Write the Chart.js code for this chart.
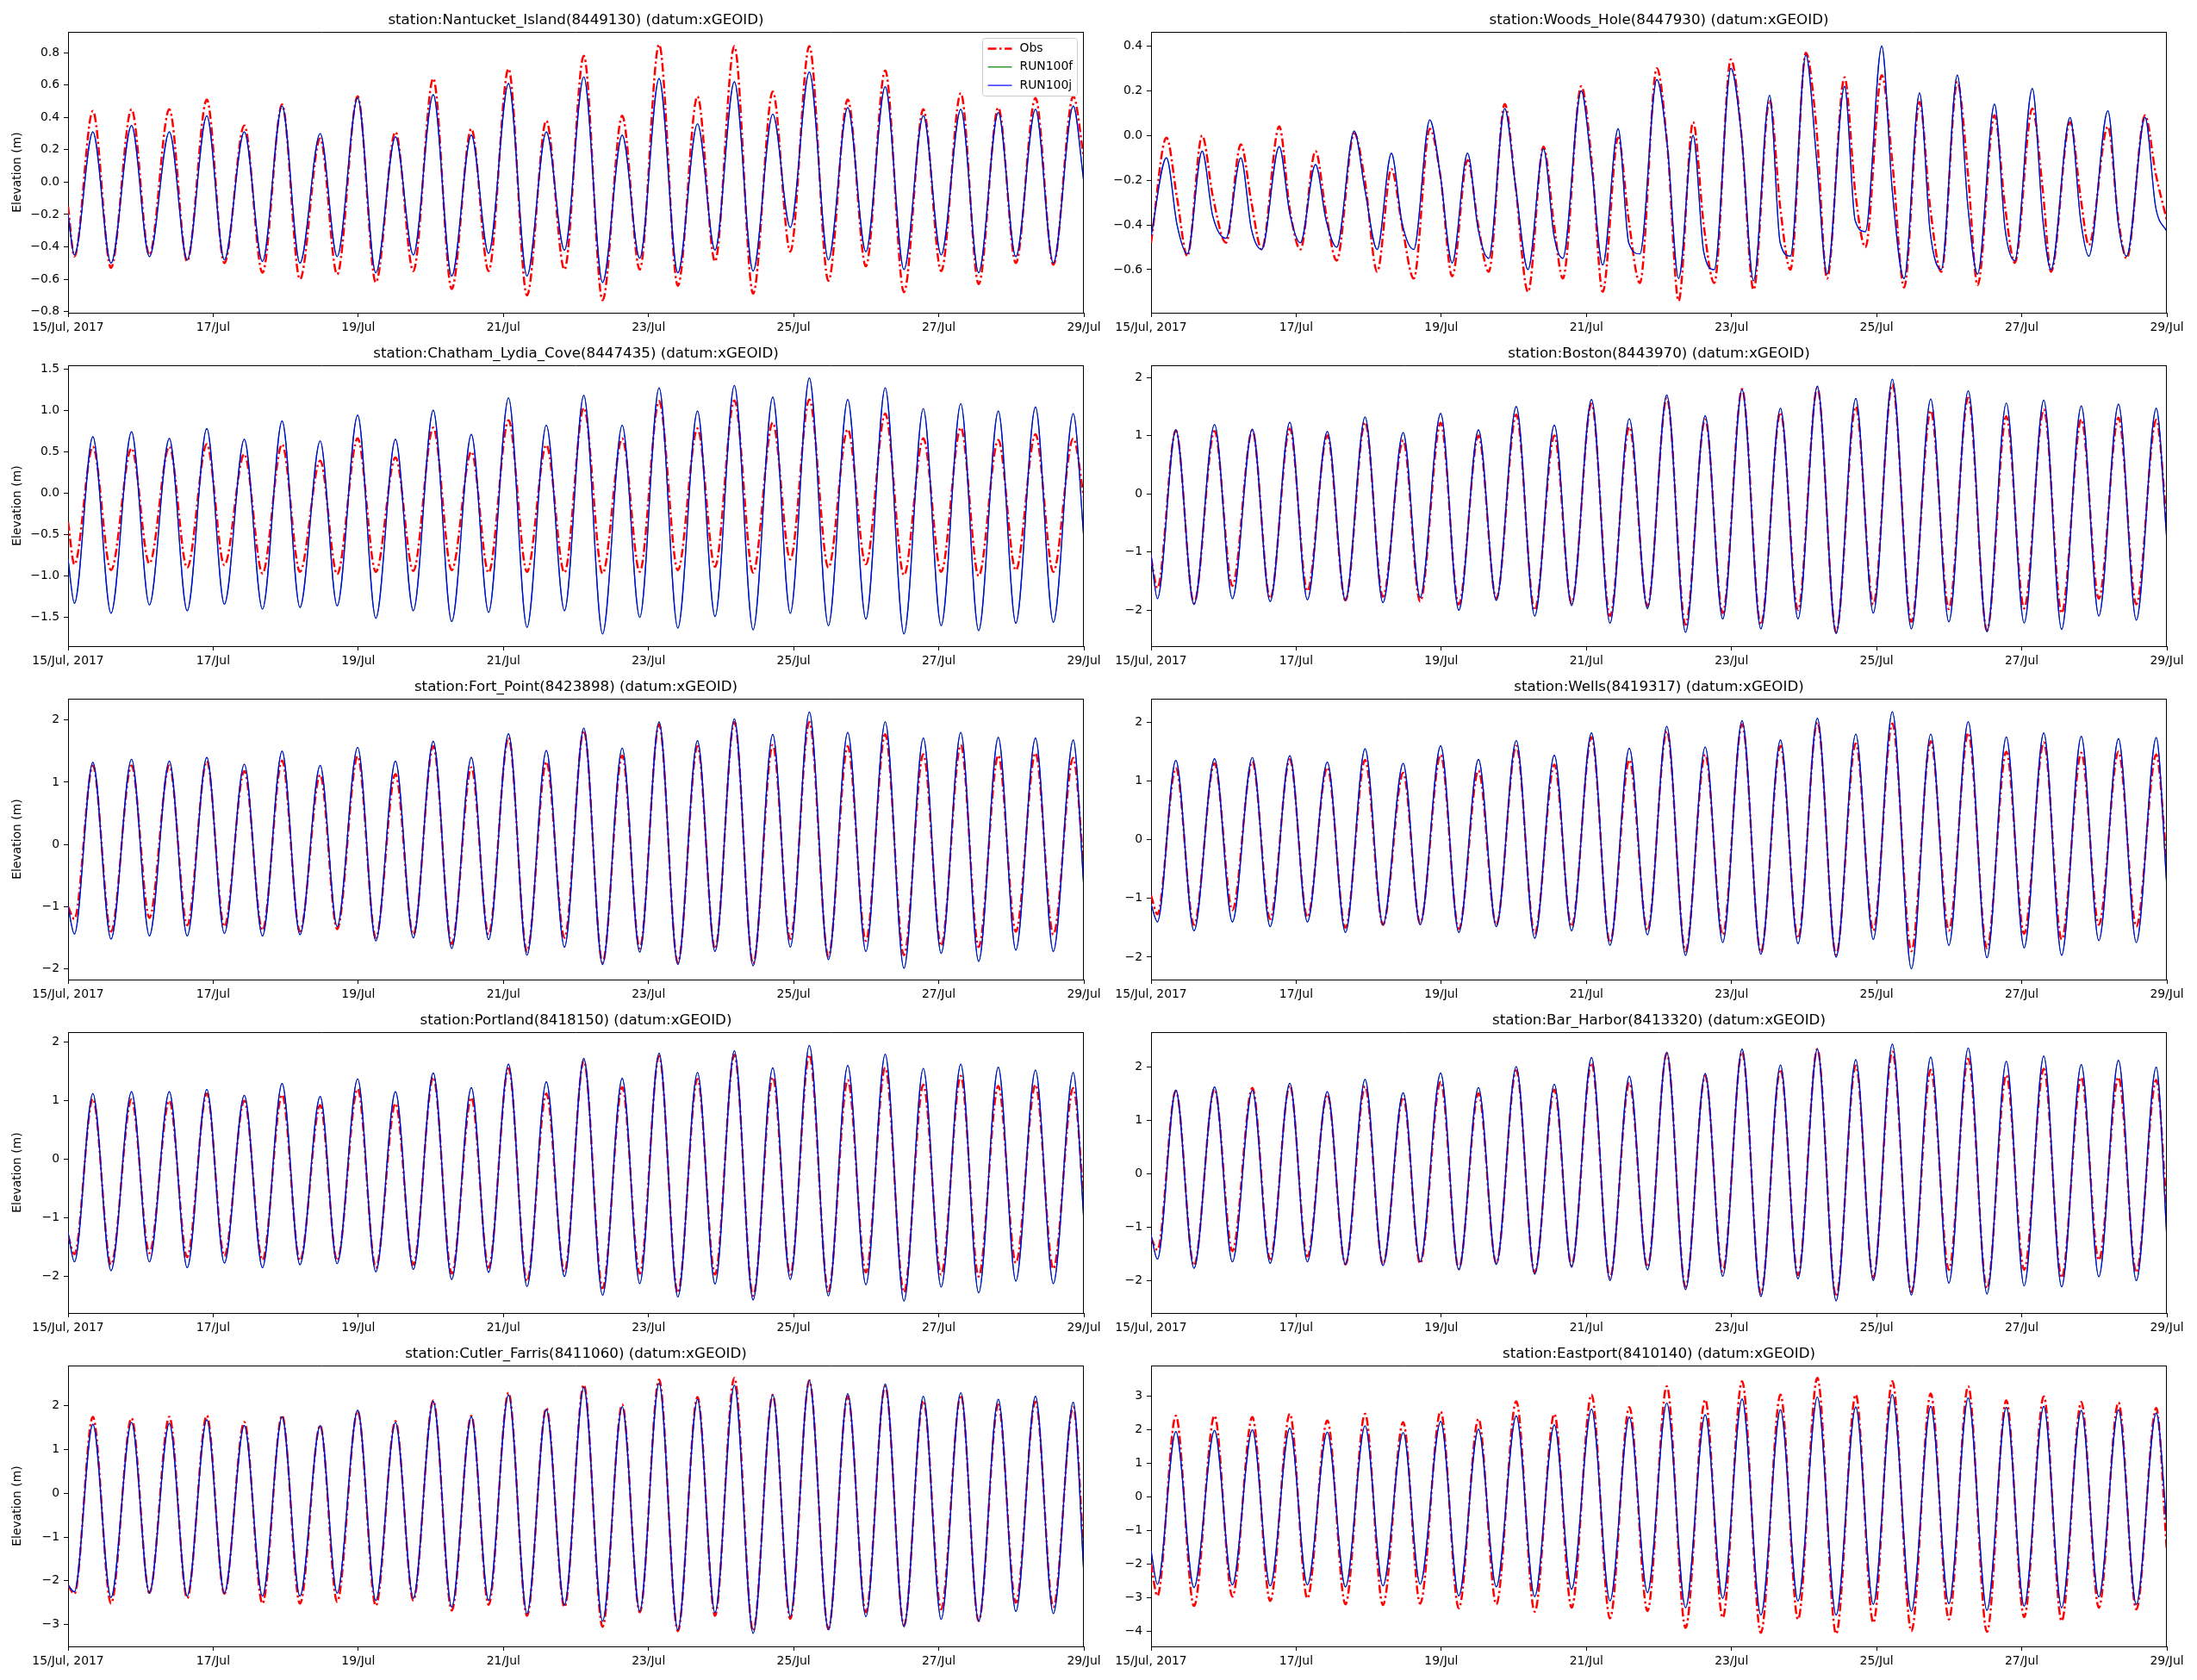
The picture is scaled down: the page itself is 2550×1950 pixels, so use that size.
<!DOCTYPE html>
<html>
<head>
<meta charset="utf-8">
<script src="https://cdn.jsdelivr.net/npm/chart.js@4.4.1/dist/chart.umd.min.js"></script>
<style>
  body { margin: 0; background: #fff; }
  #fig { position: relative; width: 2550px; height: 1950px; background: #fff; }
  .panel { position: absolute; width: 1290px; height: 395px; }
</style>
</head>
<body>
<div id="fig"></div>
<script>
// x axis: hours since 15/Jul 00:00, ticks every two days
const dayTicks = [0, 48, 96, 144, 192, 240, 288, 336];
const dayLabels = ['15/Jul, 2017', '17/Jul', '19/Jul', '21/Jul', '23/Jul', '25/Jul', '27/Jul', '29/Jul'];

// times of low / high water (hours), shared by the stations that are in phase
// start, then low,high pairs, then end
const tideHours = [0,
  2.1, 8.2, 14.2, 21.0, 26.9, 33.5, 39.4, 45.9, 51.7, 58.3, 64.3, 70.8, 76.7, 83.4, 89.0, 95.8, 101.8, 108.3,
  114.2, 120.8, 126.9, 133.4, 139.1, 145.7, 151.8, 158.2, 164.2, 170.6, 176.8, 183.3, 189.1, 195.5, 201.7, 208.2, 214.0, 220.4,
  226.6, 233.1, 238.9, 245.2, 251.5, 257.9, 263.9, 270.3, 276.5, 282.9, 288.8, 295.3, 301.2, 307.7, 313.5, 320.0, 325.9, 332.5,
  336];

// Woods Hole runs earlier and has a stand on the ebb: high, stand, low per tide
const woodsHoleHours = [0,
  5.1, 8.6, 12.0, 16.9, 20.4, 24.8, 29.7, 33.2, 36.6, 42.4, 45.9, 49.4, 54.4, 57.9, 61.4,
  67.2, 70.7, 74.8, 79.5, 83.0, 86.9, 92.2, 95.7, 99.6, 104.7, 108.2, 111.7, 117.0, 120.5, 124.7,
  129.8, 133.3, 136.2, 142.3, 145.8, 149.4, 154.5, 158.0, 161.7, 167.3, 170.8, 174.5, 179.3, 182.8, 186.3,
  191.8, 195.3, 199.3, 204.6, 208.1, 211.5, 216.6, 220.1, 223.6, 229.4, 232.9, 236.3, 241.7, 245.2, 249.1,
  254.2, 257.7, 261.4, 266.7, 270.2, 273.4, 279.0, 282.5, 285.7, 291.5, 295.0, 297.7, 304.0, 307.5, 310.2,
  316.5, 320.0, 322.7, 328.8, 332.3, 336];

// ---- Nantucket
const nantucketObs = [-0.15,
  -0.46, 0.44, -0.53, 0.45, -0.45, 0.45, -0.49, 0.51, -0.50, 0.35, -0.56, 0.48, -0.60, 0.27, -0.57, 0.53, -0.62, 0.31,
  -0.55, 0.64, -0.66, 0.33, -0.55, 0.70, -0.70, 0.38, -0.54, 0.78, -0.73, 0.41, -0.54, 0.85, -0.64, 0.53, -0.49, 0.84,
  -0.69, 0.56, -0.43, 0.84, -0.61, 0.51, -0.52, 0.69, -0.68, 0.45, -0.55, 0.55, -0.63, 0.46, -0.50, 0.52, -0.51, 0.53,
  0.15];
const nantucketRun100j = [-0.20,
  -0.45, 0.31, -0.50, 0.35, -0.46, 0.31, -0.48, 0.41, -0.48, 0.31, -0.49, 0.47, -0.50, 0.30, -0.46, 0.52, -0.56, 0.28,
  -0.45, 0.54, -0.58, 0.29, -0.44, 0.61, -0.58, 0.31, -0.42, 0.65, -0.62, 0.29, -0.47, 0.64, -0.56, 0.36, -0.42, 0.62,
  -0.55, 0.42, -0.28, 0.68, -0.48, 0.46, -0.43, 0.59, -0.54, 0.41, -0.45, 0.45, -0.56, 0.43, -0.46, 0.45, -0.50, 0.47,
  0.00];
const nantucketRun100f = nantucketRun100j; // the two runs overlap
const nantucketYTicks = [-0.8, -0.6, -0.4, -0.2, 0, 0.2, 0.4, 0.6, 0.8];

// ---- Woods Hole
const woodsHoleObs = [-0.48,
  -0.01, -0.28, -0.54, 0.00, -0.27, -0.48, -0.04, -0.30, -0.51, 0.04, -0.33, -0.51, -0.07, -0.35, -0.56,
  0.01, -0.20, -0.61, -0.15, -0.40, -0.64, 0.03, -0.18, -0.63, -0.11, -0.40, -0.61, 0.14, -0.22, -0.70,
  -0.05, -0.40, -0.64, 0.22, -0.12, -0.70, -0.01, -0.38, -0.66, 0.30, -0.05, -0.74, 0.06, -0.40, -0.66,
  0.34, 0.00, -0.69, 0.16, -0.32, -0.60, 0.37, 0.03, -0.64, 0.26, -0.25, -0.50, 0.27, -0.12, -0.68,
  0.15, -0.32, -0.61, 0.24, -0.17, -0.67, 0.09, -0.32, -0.57, 0.12, -0.25, -0.61, 0.06, -0.28, -0.49,
  0.04, -0.38, -0.55, 0.09, -0.17, -0.38];
const woodsHoleRun100j = [-0.45,
  -0.10, -0.40, -0.53, -0.07, -0.36, -0.46, -0.10, -0.42, -0.51, -0.05, -0.35, -0.48, -0.13, -0.38, -0.50,
  0.02, -0.24, -0.51, -0.08, -0.39, -0.51, 0.07, -0.18, -0.57, -0.08, -0.42, -0.55, 0.12, -0.22, -0.60,
  -0.06, -0.45, -0.55, 0.20, -0.15, -0.58, 0.03, -0.48, -0.53, 0.25, -0.05, -0.64, 0.00, -0.52, -0.60,
  0.30, 0.00, -0.65, 0.18, -0.48, -0.54, 0.36, -0.10, -0.62, 0.22, -0.38, -0.43, 0.40, -0.25, -0.64,
  0.19, -0.43, -0.60, 0.27, -0.32, -0.62, 0.14, -0.42, -0.56, 0.21, -0.38, -0.60, 0.08, -0.38, -0.54,
  0.11, -0.40, -0.54, 0.08, -0.32, -0.43];
const woodsHoleRun100f = woodsHoleRun100j;
const woodsHoleYTicks = [-0.6, -0.4, -0.2, 0, 0.2, 0.4];

// ---- Chatham
const chathamObs = [-0.35,
  -0.86, 0.56, -0.93, 0.54, -0.85, 0.56, -0.90, 0.59, -0.87, 0.47, -0.97, 0.59, -0.95, 0.39, -0.98, 0.66, -0.95, 0.43,
  -0.94, 0.79, -0.93, 0.50, -0.96, 0.88, -0.95, 0.58, -0.96, 1.03, -0.97, 0.66, -0.95, 1.11, -0.93, 0.78, -0.89, 1.12,
  -0.96, 0.85, -0.80, 1.13, -0.90, 0.77, -0.86, 0.96, -0.99, 0.66, -0.95, 0.79, -1.00, 0.64, -0.93, 0.71, -0.95, 0.66,
  -0.05];
const chathamRun100j = [-0.80,
  -1.33, 0.68, -1.45, 0.74, -1.35, 0.66, -1.42, 0.78, -1.34, 0.65, -1.40, 0.87, -1.38, 0.63, -1.36, 0.94, -1.51, 0.65,
  -1.42, 1.00, -1.55, 0.71, -1.44, 1.15, -1.62, 0.82, -1.42, 1.18, -1.70, 0.82, -1.50, 1.27, -1.63, 0.99, -1.49, 1.30,
  -1.65, 1.16, -1.45, 1.39, -1.60, 1.13, -1.52, 1.27, -1.70, 1.02, -1.60, 1.08, -1.66, 0.99, -1.57, 1.04, -1.56, 0.96,
  -0.55];
const chathamRun100f = chathamRun100j;
const chathamYTicks = [-1.5, -1.0, -0.5, 0, 0.5, 1.0, 1.5];

// ---- Boston
const bostonObs = [-1.10,
  -1.62, 1.09, -1.88, 1.08, -1.58, 1.09, -1.80, 1.12, -1.67, 1.00, -1.83, 1.23, -1.77, 0.92, -1.85, 1.22, -1.90, 1.00,
  -1.80, 1.36, -2.00, 1.00, -1.88, 1.55, -2.10, 1.15, -1.93, 1.65, -2.25, 1.28, -2.05, 1.80, -2.25, 1.40, -2.00, 1.82,
  -2.38, 1.50, -1.90, 1.88, -2.20, 1.43, -1.98, 1.65, -2.35, 1.33, -1.97, 1.45, -2.05, 1.28, -1.80, 1.31, -1.90, 1.27,
  -0.50];
const bostonRun100j = [-1.05,
  -1.80, 1.10, -1.90, 1.19, -1.80, 1.11, -1.85, 1.23, -1.82, 1.07, -1.83, 1.32, -1.87, 1.05, -1.78, 1.38, -2.00, 1.10,
  -1.83, 1.50, -2.10, 1.18, -1.92, 1.62, -2.22, 1.29, -1.97, 1.70, -2.38, 1.34, -2.15, 1.79, -2.32, 1.47, -2.15, 1.85,
  -2.40, 1.64, -2.05, 1.97, -2.32, 1.63, -2.20, 1.77, -2.37, 1.56, -2.22, 1.61, -2.33, 1.51, -2.10, 1.54, -2.17, 1.47,
  -0.80];
const bostonRun100f = bostonRun100j;

// ---- Fort Point
const fortPointObs = [-1.00,
  -1.20, 1.27, -1.40, 1.27, -1.18, 1.27, -1.30, 1.34, -1.32, 1.18, -1.38, 1.35, -1.40, 1.12, -1.36, 1.42, -1.50, 1.13,
  -1.45, 1.58, -1.60, 1.24, -1.45, 1.72, -1.72, 1.33, -1.50, 1.83, -1.90, 1.43, -1.67, 1.93, -1.90, 1.58, -1.68, 1.97,
  -1.92, 1.60, -1.52, 1.97, -1.80, 1.58, -1.55, 1.77, -1.78, 1.45, -1.63, 1.60, -1.65, 1.43, -1.40, 1.47, -1.45, 1.39,
  -0.40];
const fortPointRun100j = [-1.00,
  -1.44, 1.32, -1.52, 1.37, -1.47, 1.34, -1.47, 1.40, -1.43, 1.29, -1.47, 1.50, -1.45, 1.27, -1.32, 1.56, -1.55, 1.34,
  -1.50, 1.66, -1.67, 1.40, -1.53, 1.78, -1.78, 1.51, -1.65, 1.87, -1.93, 1.55, -1.73, 1.97, -1.93, 1.67, -1.72, 2.02,
  -1.95, 1.77, -1.65, 2.13, -1.85, 1.80, -1.72, 1.97, -1.99, 1.71, -1.75, 1.80, -1.88, 1.72, -1.70, 1.71, -1.72, 1.68,
  -0.70];
const fortPointRun100f = fortPointRun100j;

// ---- Wells
const wellsObs = [-0.95,
  -1.27, 1.22, -1.45, 1.30, -1.20, 1.33, -1.35, 1.37, -1.32, 1.23, -1.50, 1.36, -1.45, 1.14, -1.42, 1.45, -1.52, 1.18,
  -1.45, 1.60, -1.60, 1.28, -1.48, 1.75, -1.75, 1.36, -1.55, 1.85, -1.90, 1.45, -1.62, 1.97, -1.92, 1.60, -1.68, 2.00,
  -1.96, 1.64, -1.55, 1.98, -1.90, 1.68, -1.55, 1.82, -1.85, 1.50, -1.60, 1.66, -1.70, 1.48, -1.45, 1.50, -1.48, 1.45,
  -0.40];
const wellsRun100j = [-1.10,
  -1.40, 1.35, -1.55, 1.38, -1.40, 1.40, -1.48, 1.43, -1.40, 1.32, -1.58, 1.55, -1.45, 1.30, -1.45, 1.60, -1.58, 1.37,
  -1.48, 1.69, -1.68, 1.44, -1.55, 1.82, -1.80, 1.56, -1.62, 1.93, -1.97, 1.58, -1.75, 2.03, -1.95, 1.70, -1.77, 2.07,
  -2.00, 1.80, -1.70, 2.18, -2.20, 1.80, -1.80, 2.01, -2.01, 1.75, -1.84, 1.82, -1.97, 1.76, -1.72, 1.72, -1.75, 1.74,
  -0.80];
const wellsRun100f = wellsRun100j;

// ---- Portland
const portlandObs = [-1.30,
  -1.62, 1.03, -1.80, 1.02, -1.60, 1.00, -1.67, 1.12, -1.65, 1.00, -1.72, 1.10, -1.73, 0.92, -1.73, 1.20, -1.85, 0.95,
  -1.80, 1.40, -1.95, 1.05, -1.85, 1.55, -2.08, 1.12, -1.92, 1.68, -2.20, 1.23, -1.95, 1.76, -2.28, 1.37, -1.97, 1.78,
  -2.33, 1.40, -1.97, 1.78, -2.25, 1.35, -1.93, 1.56, -2.27, 1.27, -1.97, 1.42, -2.00, 1.25, -1.77, 1.27, -1.87, 1.21,
  -0.70];
const portlandRun100j = [-1.25,
  -1.75, 1.12, -1.90, 1.15, -1.75, 1.15, -1.85, 1.19, -1.77, 1.09, -1.85, 1.29, -1.80, 1.07, -1.78, 1.37, -1.92, 1.15,
  -1.88, 1.47, -2.05, 1.22, -1.93, 1.62, -2.17, 1.32, -2.00, 1.72, -2.32, 1.38, -2.12, 1.81, -2.35, 1.48, -2.13, 1.85,
  -2.40, 1.56, -2.05, 1.94, -2.33, 1.60, -2.14, 1.79, -2.42, 1.55, -2.18, 1.62, -2.28, 1.57, -2.08, 1.52, -2.12, 1.48,
  -1.05];
const portlandRun100f = portlandRun100j;

// ---- Bar Harbor
const barHarborObs = [-1.20,
  -1.43, 1.55, -1.72, 1.58, -1.45, 1.60, -1.60, 1.65, -1.55, 1.48, -1.70, 1.63, -1.70, 1.43, -1.68, 1.72, -1.78, 1.50,
  -1.68, 1.93, -1.85, 1.57, -1.72, 2.07, -1.95, 1.70, -1.75, 2.25, -2.12, 1.83, -1.83, 2.28, -2.25, 1.95, -1.90, 2.33,
  -2.30, 2.02, -1.95, 2.28, -2.22, 1.94, -1.80, 2.15, -2.15, 1.84, -1.80, 1.96, -1.95, 1.80, -1.62, 1.80, -1.85, 1.75,
  -0.70];
const barHarborRun100j = [-1.15,
  -1.60, 1.56, -1.77, 1.62, -1.65, 1.56, -1.68, 1.69, -1.65, 1.53, -1.70, 1.76, -1.72, 1.51, -1.65, 1.88, -1.80, 1.61,
  -1.70, 2.00, -1.88, 1.67, -1.75, 2.17, -2.00, 1.82, -1.80, 2.27, -2.17, 1.87, -1.92, 2.33, -2.30, 2.03, -1.97, 2.33,
  -2.38, 2.13, -2.00, 2.42, -2.27, 2.18, -2.05, 2.35, -2.25, 2.10, -2.10, 2.20, -2.12, 2.04, -1.93, 2.12, -2.00, 1.99,
  -1.20];
const barHarborRun100f = barHarborRun100j;

// ---- Cutler Farris
const cutlerObs = [-2.10,
  -2.30, 1.75, -2.52, 1.72, -2.28, 1.75, -2.40, 1.78, -2.30, 1.63, -2.52, 1.78, -2.52, 1.55, -2.48, 1.88, -2.57, 1.65,
  -2.45, 2.12, -2.68, 1.77, -2.55, 2.30, -2.80, 1.95, -2.60, 2.48, -3.05, 2.03, -2.72, 2.60, -3.15, 2.20, -2.80, 2.64,
  -3.15, 2.25, -2.87, 2.58, -3.10, 2.22, -2.72, 2.45, -3.02, 2.12, -2.65, 2.25, -2.92, 2.03, -2.50, 2.10, -2.60, 1.97,
  -1.40];
const cutlerRun100j = [-2.10,
  -2.25, 1.58, -2.38, 1.62, -2.28, 1.60, -2.35, 1.68, -2.28, 1.55, -2.35, 1.75, -2.35, 1.55, -2.28, 1.90, -2.45, 1.62,
  -2.40, 2.10, -2.60, 1.75, -2.45, 2.25, -2.75, 1.92, -2.55, 2.42, -2.92, 1.98, -2.70, 2.52, -3.12, 2.15, -2.73, 2.47,
  -3.20, 2.25, -2.82, 2.58, -3.12, 2.28, -2.82, 2.50, -3.05, 2.22, -2.88, 2.30, -2.92, 2.15, -2.70, 2.22, -2.75, 2.08,
  -1.85];
const cutlerRun100f = cutlerRun100j;
const cutlerYTicks = [-3, -2, -1, 0, 1, 2];

// ---- Eastport
const eastportObs = [-2.00,
  -2.95, 2.42, -3.25, 2.42, -2.97, 2.38, -3.10, 2.48, -3.02, 2.28, -3.20, 2.48, -3.22, 2.23, -3.18, 2.55, -3.32, 2.33,
  -3.20, 2.85, -3.42, 2.47, -3.30, 3.05, -3.62, 2.68, -3.40, 3.30, -3.90, 2.90, -3.60, 3.45, -4.05, 3.05, -3.65, 3.55,
  -4.08, 3.05, -3.75, 3.45, -4.00, 3.08, -3.65, 3.30, -4.02, 2.88, -3.58, 3.00, -3.70, 2.83, -3.30, 2.82, -3.35, 2.65,
  -1.60];
const eastportRun100j = [-1.60,
  -2.60, 1.95, -2.70, 1.98, -2.62, 2.00, -2.65, 2.05, -2.62, 1.93, -2.68, 2.12, -2.65, 1.92, -2.60, 2.25, -2.95, 2.02,
  -2.68, 2.42, -2.97, 2.15, -2.75, 2.62, -3.10, 2.38, -2.85, 2.80, -3.30, 2.45, -3.02, 2.92, -3.52, 2.60, -3.10, 2.98,
  -3.52, 2.68, -3.20, 3.05, -3.40, 2.70, -3.18, 2.95, -3.38, 2.67, -3.25, 2.70, -3.30, 2.58, -2.98, 2.60, -3.20, 2.50,
  -0.85];
const eastportRun100f = eastportRun100j;
const eastportYTicks = [-4, -3, -2, -1, 0, 1, 2, 3];

const gulfYTicks = [-2, -1, 0, 1, 2];

// ---------------------------------------------------------------
const FONT = "'DejaVu Sans', sans-serif";
Chart.defaults.font.family = FONT;
Chart.defaults.color = '#000';

const AX_LEFT = [79, 1336];
const AX_TOP = [37, 424, 811, 1198, 1585];

const panels = [
  { title: 'station:Nantucket_Island(8449130) (datum:xGEOID)', hours: tideHours, obs: nantucketObs, f: nantucketRun100f, j: nantucketRun100j, min: -0.807, max: 0.928, ticks: nantucketYTicks, dec: 1, col: 0, row: 0, legend: true },
  { title: 'station:Woods_Hole(8447930) (datum:xGEOID)', hours: woodsHoleHours, obs: woodsHoleObs, f: woodsHoleRun100f, j: woodsHoleRun100j, min: -0.793, max: 0.463, ticks: woodsHoleYTicks, dec: 1, col: 1, row: 0 },
  { title: 'station:Chatham_Lydia_Cove(8447435) (datum:xGEOID)', hours: tideHours, obs: chathamObs, f: chathamRun100f, j: chathamRun100j, min: -1.847, max: 1.542, ticks: chathamYTicks, dec: 1, col: 0, row: 1 },
  { title: 'station:Boston(8443970) (datum:xGEOID)', hours: tideHours, obs: bostonObs, f: bostonRun100f, j: bostonRun100j, min: -2.617, max: 2.207, ticks: gulfYTicks, dec: 0, col: 1, row: 1 },
  { title: 'station:Fort_Point(8423898) (datum:xGEOID)', hours: tideHours, obs: fortPointObs, f: fortPointRun100f, j: fortPointRun100j, min: -2.171, max: 2.342, ticks: gulfYTicks, dec: 0, col: 0, row: 2 },
  { title: 'station:Wells(8419317) (datum:xGEOID)', hours: tideHours, obs: wellsObs, f: wellsRun100f, j: wellsRun100j, min: -2.382, max: 2.401, ticks: gulfYTicks, dec: 0, col: 1, row: 2 },
  { title: 'station:Portland(8418150) (datum:xGEOID)', hours: tideHours, obs: portlandObs, f: portlandRun100f, j: portlandRun100j, min: -2.622, max: 2.166, ticks: gulfYTicks, dec: 0, col: 0, row: 3 },
  { title: 'station:Bar_Harbor(8413320) (datum:xGEOID)', hours: tideHours, obs: barHarborObs, f: barHarborRun100f, j: barHarborRun100j, min: -2.607, max: 2.644, ticks: gulfYTicks, dec: 0, col: 1, row: 3 },
  { title: 'station:Cutler_Farris(8411060) (datum:xGEOID)', hours: tideHours, obs: cutlerObs, f: cutlerRun100f, j: cutlerRun100j, min: -3.499, max: 2.919, ticks: cutlerYTicks, dec: 0, col: 0, row: 4 },
  { title: 'station:Eastport(8410140) (datum:xGEOID)', hours: tideHours, obs: eastportObs, f: eastportRun100f, j: eastportRun100j, min: -4.454, max: 3.916, ticks: eastportYTicks, dec: 0, col: 1, row: 4 }
];

const toPoints = (hours, vals) => hours.map((h, i) => ({ x: h, y: vals[i] }));
const fmtY = (v, dec) => v.toFixed(dec).replace('-', '\u2212');

// top and right spines
const frame = {
  id: 'frame',
  afterDatasetsDraw(chart) {
    const { ctx, chartArea: a } = chart;
    ctx.save();
    ctx.strokeStyle = '#000';
    ctx.lineWidth = 1;
    ctx.beginPath();
    ctx.moveTo(a.left, Math.round(a.top) + 0.5);
    ctx.lineTo(a.right, Math.round(a.top) + 0.5);
    ctx.moveTo(Math.round(a.right) - 0.5, a.top);
    ctx.lineTo(Math.round(a.right) - 0.5, a.bottom);
    ctx.stroke();
    ctx.restore();
  }
};

// matplotlib style legend inside the upper right corner
const legendBox = {
  id: 'legendBox',
  afterDraw(chart, args, opts) {
    if (!opts.show) return;
    const { ctx, chartArea: a } = chart;
    const w = 110, h = 67;
    const x0 = Math.round(a.right - 8 - w) + 0.5, y0 = Math.round(a.top + 7) + 0.5;
    ctx.save();
    ctx.beginPath();
    if (ctx.roundRect) ctx.roundRect(x0, y0, w, h, 3); else ctx.rect(x0, y0, w, h);
    ctx.fillStyle = 'rgba(255,255,255,0.8)';
    ctx.fill();
    ctx.strokeStyle = '#cccccc';
    ctx.lineWidth = 1;
    ctx.stroke();
    ctx.font = '13.9px ' + FONT;
    ctx.textBaseline = 'middle';
    chart.data.datasets.forEach((ds, i) => {
      const y = y0 + 12 + i * 21.3;
      ctx.beginPath();
      ctx.setLineDash(ds.borderDash || []);
      ctx.strokeStyle = ds.borderColor;
      ctx.lineWidth = ds.borderWidth;
      ctx.moveTo(x0 + 6, y);
      ctx.lineTo(x0 + 34, y);
      ctx.stroke();
      ctx.setLineDash([]);
      ctx.fillStyle = '#000';
      ctx.fillText(ds.label, x0 + 43, y);
    });
    ctx.restore();
  }
};

const fig = document.getElementById('fig');

panels.forEach(p => {
  const div = document.createElement('div');
  div.className = 'panel';
  div.style.left = (AX_LEFT[p.col] - 79) + 'px';
  div.style.top = (AX_TOP[p.row] - 37) + 'px';
  const canvas = document.createElement('canvas');
  div.appendChild(canvas);
  fig.appendChild(div);

  const line = { pointRadius: 0, cubicInterpolationMode: 'monotone', fill: false };

  new Chart(canvas, {
    type: 'line',
    data: {
      datasets: [
        Object.assign({ label: 'Obs', data: toPoints(p.hours, p.obs), borderColor: '#ff0000', borderWidth: 2.5, borderDash: [10, 3.5, 2.5, 3.5], order: 3 }, line),
        Object.assign({ label: 'RUN100f', data: toPoints(p.hours, p.f), borderColor: '#008000', borderWidth: 1.2, order: 2 }, line),
        Object.assign({ label: 'RUN100j', data: toPoints(p.hours, p.j), borderColor: '#0000ff', borderWidth: 1.2, order: 1 }, line)
      ]
    },
    plugins: [frame, legendBox],
    options: {
      responsive: true,
      maintainAspectRatio: false,
      animation: false,
      events: [],
      layout: { padding: { left: 0, top: 0, right: 32, bottom: 0 } },
      plugins: {
        legend: { display: false },
        tooltip: { enabled: false },
        legendBox: { show: !!p.legend },
        title: {
          display: true,
          text: p.title,
          fullSize: false,
          color: '#000',
          font: { size: 16.7, weight: 'normal' },
          padding: { top: 13.4, bottom: 3.6 }
        }
      },
      scales: {
        x: {
          type: 'linear',
          min: 0,
          max: 336,
          afterBuildTicks: s => { s.ticks = dayTicks.map(v => ({ value: v })); },
          afterFit: s => { s.height = 32; s.paddingLeft = 0; s.paddingRight = 0; },
          ticks: {
            callback: (v, i) => dayLabels[i],
            font: { size: 13.9 },
            color: '#000',
            padding: 4,
            maxRotation: 0,
            autoSkip: false
          },
          grid: { drawOnChartArea: false, drawTicks: true, tickLength: 5, color: '#000', lineWidth: 1 },
          border: { display: true, color: '#000', width: 1 }
        },
        y: {
          type: 'linear',
          min: p.min,
          max: p.max,
          afterBuildTicks: s => { s.ticks = p.ticks.map(v => ({ value: v })); },
          afterFit: s => { s.width = 79; s.paddingTop = 0; s.paddingBottom = 0; },
          ticks: {
            callback: v => fmtY(v, p.dec),
            font: { size: 13.9 },
            color: '#000',
            padding: 5
          },
          title: {
            display: p.col === 0,
            text: 'Elevation (m)',
            color: '#000',
            font: { size: 13.9 },
            padding: { top: 12, bottom: 0 }
          },
          grid: { drawOnChartArea: false, drawTicks: true, tickLength: 5, color: '#000', lineWidth: 1 },
          border: { display: true, color: '#000', width: 1 }
        }
      }
    }
  });
});
</script>
</body>
</html>
